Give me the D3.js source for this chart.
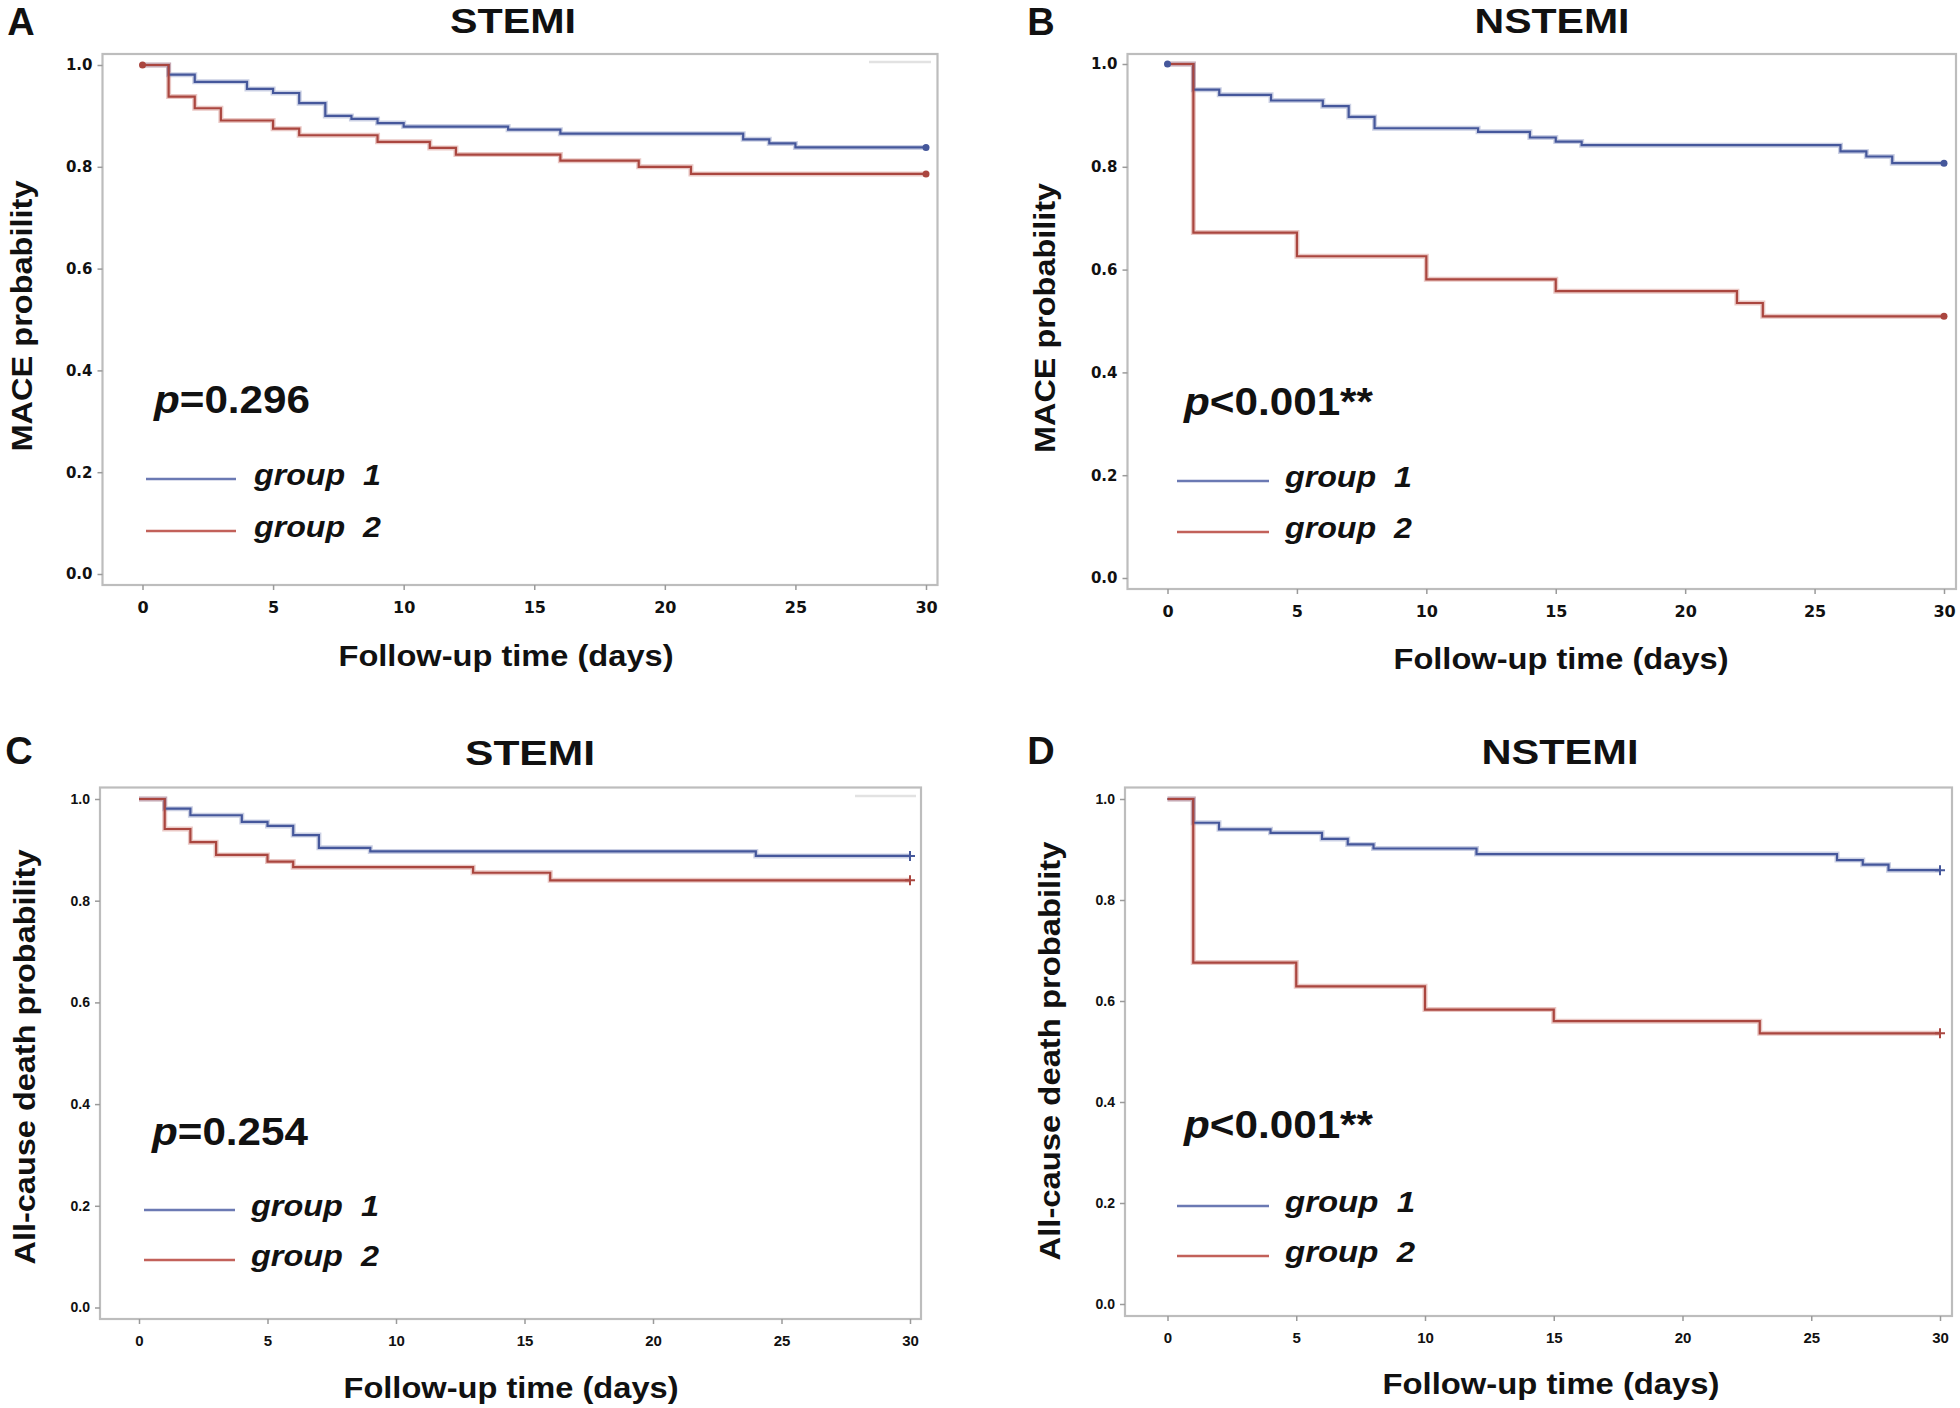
<!DOCTYPE html>
<html>
<head>
<meta charset="utf-8">
<script src="https://cdn.jsdelivr.net/npm/d3@7"></script>
<style>
  html, body { margin: 0; padding: 0; background: #fff; }
  svg { display: block; }
  .pre { white-space: pre; }
</style>
</head>
<body>
<svg id="chart" width="1960" height="1408"></svg>
<script>
// ---------------- DATA ----------------
const panelLetters = ["A", "B", "C", "D"];
const titles = ["STEMI", "NSTEMI", "STEMI", "NSTEMI"];
const yLabels = ["MACE probability", "MACE probability", "All-cause death probability", "All-cause death probability"];
const xLabel = "Follow-up time (days)";
const pPrefix = "p";
const pRest = ["=0.296", "<0.001**", "=0.254", "<0.001**"];
const seriesNames = ["group  1", "group  2"];
const xTicks = [0, 5, 10, 15, 20, 25, 30];
const yTicks = [0, 0.2, 0.4, 0.6, 0.8, 1.0];

// Panel A (MACE, STEMI)
const aTime1 = [0, 1, 2, 4, 5, 6, 7, 8, 9, 10, 14, 16, 23, 24, 25, 30];
const aSurv1 = [1, 0.981, 0.967, 0.953, 0.945, 0.925, 0.900, 0.894, 0.886, 0.879, 0.873, 0.865, 0.854, 0.846, 0.838, 0.838];
const aTime2 = [0, 1, 2, 3, 5, 6, 9, 11, 12, 16, 19, 21, 30];
const aSurv2 = [1, 0.938, 0.915, 0.891, 0.875, 0.862, 0.849, 0.837, 0.824, 0.812, 0.800, 0.786, 0.786];
// Panel B (MACE, NSTEMI)
const bTime1 = [0, 1, 2, 4, 6, 7, 8, 12, 14, 15, 16, 26, 27, 28, 30];
const bSurv1 = [1, 0.950, 0.940, 0.929, 0.918, 0.897, 0.875, 0.868, 0.857, 0.849, 0.842, 0.830, 0.820, 0.807, 0.807];
const bTime2 = [0, 1, 5, 10, 15, 22, 23, 30];
const bSurv2 = [1, 0.672, 0.626, 0.581, 0.558, 0.535, 0.509, 0.509];
// Panel C (All-cause death, STEMI)
const cTime1 = [0, 1, 2, 4, 5, 6, 7, 9, 24, 30];
const cSurv1 = [1, 0.981, 0.968, 0.955, 0.947, 0.929, 0.904, 0.897, 0.888, 0.888];
const cTime2 = [0, 1, 2, 3, 5, 6, 13, 16, 30];
const cSurv2 = [1, 0.941, 0.915, 0.890, 0.877, 0.866, 0.855, 0.840, 0.840];
// Panel D (All-cause death, NSTEMI)
const dTime1 = [0, 1, 2, 4, 6, 7, 8, 12, 26, 27, 28, 30];
const dSurv1 = [1, 0.953, 0.940, 0.933, 0.921, 0.910, 0.902, 0.891, 0.879, 0.870, 0.859, 0.859];
const dTime2 = [0, 1, 5, 10, 15, 23, 30];
const dSurv2 = [1, 0.676, 0.629, 0.583, 0.560, 0.536, 0.536];

// ---------------- STYLE / LAYOUT ----------------
const BLUE = "#45579b", RED = "#aa463f";
const BLUE_L = "#6b79b3", RED_L = "#c2615a";
const FONT = "'Liberation Sans', Arial, sans-serif";

const zip = (t, s) => t.map((d, i) => [d, s[i]]);

const layout = [
  { data: [zip(aTime1, aSurv1), zip(aTime2, aSurv2)],
    frame: [102.5, 54, 937.5, 585], xr: [142.5, 926], yr: [574, 65],
    letter: [21, 22], title: [513, 20, 126], ylab: [22, 316, 271], xlab: [506, 655, 335],
    p: [154, 413, 156], leg: [146, 236, 479, 531, 254, 127],
    startMark: 1, endMark: "dot", tickBold: true, ghost: [869, 931, 62] },
  { data: [zip(bTime1, bSurv1), zip(bTime2, bSurv2)],
    frame: [1127.5, 54, 1956, 589], xr: [1167.5, 1944], yr: [578, 64],
    letter: [1041, 22], title: [1552, 20, 155], ylab: [1045, 318, 270], xlab: [1561, 658, 335],
    p: [1184, 415, 189], leg: [1177, 1269, 481, 532, 1285, 127],
    startMark: 0, endMark: "dot", tickBold: true, ghost: null },
  { data: [zip(cTime1, cSurv1), zip(cTime2, cSurv2)],
    frame: [100, 787.5, 921, 1319], xr: [139, 910], yr: [1307.5, 799],
    letter: [19, 751], title: [530, 752, 130], ylab: [25, 1057, 415], xlab: [511, 1387, 335],
    p: [152, 1145, 156], leg: [144, 235, 1210, 1260, 251, 128],
    startMark: -1, endMark: "cross", tickBold: false, ghost: [855, 916, 796] },
  { data: [zip(dTime1, dSurv1), zip(dTime2, dSurv2)],
    frame: [1125, 787.5, 1952, 1316], xr: [1167.5, 1940], yr: [1304, 799],
    letter: [1041, 751], title: [1560, 751, 157], ylab: [1050, 1051, 419], xlab: [1551, 1383, 337],
    p: [1184, 1138, 189], leg: [1177, 1269, 1206, 1256, 1285, 130],
    startMark: -1, endMark: "cross", tickBold: false, ghost: null }
];

const svg = d3.select("#chart");
const colors = [BLUE, RED], lightColors = [BLUE_L, RED_L];

layout.forEach((L, k) => {
  const g = svg.append("g");
  const x = d3.scaleLinear().domain([0, 30]).range(L.xr);
  const y = d3.scaleLinear().domain([0, 1]).range(L.yr);
  const [fx0, fy0, fx1, fy1] = L.frame;

  // frame
  g.append("rect").attr("x", fx0).attr("y", fy0)
    .attr("width", fx1 - fx0).attr("height", fy1 - fy0)
    .attr("fill", "none").attr("stroke", "#bdbdbd").attr("stroke-width", 2.2);

  if (L.ghost) {
    g.append("line").attr("x1", L.ghost[0]).attr("x2", L.ghost[1])
      .attr("y1", L.ghost[2]).attr("y2", L.ghost[2])
      .attr("stroke", "#e2e2e2").attr("stroke-width", 2.5);
  }

  const tickFont = L.tickBold ? "'DejaVu Sans', sans-serif" : FONT;
  const yTickSize = L.tickBold ? 15 : 14;
  const xTickSize = L.tickBold ? 16 : 15;
  const xPad = L.tickBold ? 12 : 11;

  // y axis
  const ya = g.append("g").attr("transform", `translate(${fx0},0)`)
    .call(d3.axisLeft(y).tickValues(yTicks).tickFormat(d3.format(".1f")).tickSize(5).tickPadding(5));
  ya.select(".domain").remove();
  ya.selectAll(".tick line").attr("stroke", "#9a9a9a").attr("stroke-width", 1.5);
  ya.selectAll(".tick text").attr("font-family", tickFont).attr("font-size", yTickSize)
    .attr("font-weight", "bold").attr("fill", "#111");

  // x axis
  const xa = g.append("g").attr("transform", `translate(0,${fy1})`)
    .call(d3.axisBottom(x).tickValues(xTicks).tickFormat(d3.format("d")).tickSize(5).tickPadding(xPad));
  xa.select(".domain").remove();
  xa.selectAll(".tick line").attr("stroke", "#9a9a9a").attr("stroke-width", 1.5);
  xa.selectAll(".tick text").attr("font-family", tickFont).attr("font-size", xTickSize)
    .attr("font-weight", "bold").attr("fill", "#111");

  // curves
  const line = d3.line().x(d => x(d[0])).y(d => y(d[1])).curve(d3.curveStepAfter);
  L.data.forEach((s, i) => {
    g.append("path").attr("d", line(s)).attr("fill", "none")
      .attr("stroke", lightColors[i]).attr("stroke-opacity", 0.35).attr("stroke-width", 5);
  });
  L.data.forEach((s, i) => {
    g.append("path").attr("d", line(s)).attr("fill", "none")
      .attr("stroke", colors[i]).attr("stroke-width", 2.2);
  });

  // markers
  L.data.forEach((s, i) => {
    const last = s[s.length - 1];
    if (L.endMark === "dot") {
      g.append("circle").attr("cx", x(last[0])).attr("cy", y(last[1])).attr("r", 3.5).attr("fill", colors[i]);
    } else {
      g.append("path").attr("d", `M${x(last[0]) - 5},${y(last[1])}h10M${x(last[0])},${y(last[1]) - 5}v10`)
        .attr("stroke", colors[i]).attr("stroke-width", 2);
    }
  });
  if (L.startMark >= 0) {
    const s0 = L.data[L.startMark][0];
    g.append("circle").attr("cx", x(s0[0])).attr("cy", y(s0[1])).attr("r", 3.5).attr("fill", colors[L.startMark]);
  }

  // panel letter
  g.append("text").attr("x", L.letter[0]).attr("y", L.letter[1])
    .attr("text-anchor", "middle").attr("dominant-baseline", "central")
    .attr("font-family", FONT).attr("font-weight", "bold").attr("font-size", 38)
    .attr("fill", "#111").text(panelLetters[k]);

  // title
  g.append("text").attr("x", L.title[0]).attr("y", L.title[1])
    .attr("text-anchor", "middle").attr("dominant-baseline", "central")
    .attr("font-family", FONT).attr("font-weight", "bold").attr("font-size", 35)
    .attr("textLength", L.title[2]).attr("lengthAdjust", "spacingAndGlyphs")
    .attr("fill", "#111").text(titles[k]);

  // y label
  g.append("text").attr("transform", `translate(${L.ylab[0]},${L.ylab[1]}) rotate(-90)`)
    .attr("text-anchor", "middle").attr("dominant-baseline", "central")
    .attr("font-family", FONT).attr("font-weight", "bold").attr("font-size", 29)
    .attr("textLength", L.ylab[2]).attr("lengthAdjust", "spacingAndGlyphs")
    .attr("fill", "#111").text(yLabels[k]);

  // x label
  g.append("text").attr("x", L.xlab[0]).attr("y", L.xlab[1])
    .attr("text-anchor", "middle").attr("dominant-baseline", "central")
    .attr("font-family", FONT).attr("font-weight", "bold").attr("font-size", 30)
    .attr("textLength", L.xlab[2]).attr("lengthAdjust", "spacingAndGlyphs")
    .attr("fill", "#111").text(xLabel);

  // p value
  const pt = g.append("text").attr("x", L.p[0]).attr("y", L.p[1])
    .attr("font-family", FONT).attr("font-size", 39).attr("fill", "#111")
    .attr("textLength", L.p[2]).attr("lengthAdjust", "spacingAndGlyphs");
  pt.append("tspan").attr("font-style", "italic").attr("font-weight", "bold").text(pPrefix);
  pt.append("tspan").attr("font-weight", "bold").text(pRest[k]);

  // legend
  [L.leg[2], L.leg[3]].forEach((ly, i) => {
    g.append("line").attr("x1", L.leg[0]).attr("x2", L.leg[1]).attr("y1", ly).attr("y2", ly)
      .attr("stroke", lightColors[i]).attr("stroke-width", 2.6);
    g.append("text").attr("class", "pre").attr("x", L.leg[4]).attr("y", ly + 6)
      .attr("font-family", FONT).attr("font-weight", "bold").attr("font-style", "italic")
      .attr("font-size", 29).attr("fill", "#111")
      .attr("textLength", L.leg[5]).attr("lengthAdjust", "spacingAndGlyphs")
      .text(seriesNames[i]);
  });
});
</script>
</body>
</html>
